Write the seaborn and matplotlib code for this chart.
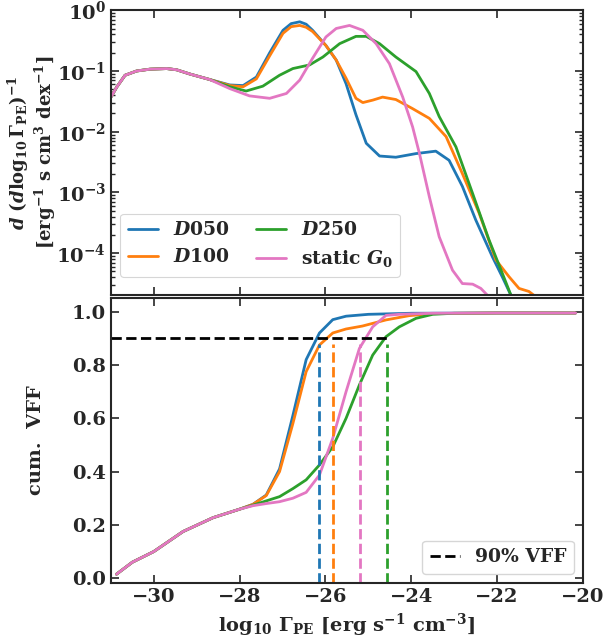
import numpy as np
import pandas as pd
import matplotlib
matplotlib.use("Agg")
import matplotlib.pyplot as plt
import seaborn as sns

# ---------------- data ----------------
labels = [r"$\mathbfit{D}$050", r"$\mathbfit{D}$100", r"$\mathbfit{D}$250", r"static $\mathbfit{G}_0$"]
colors = ["#1f77b4", "#ff7f0e", "#2ca02c", "#e377c2"]

# common low-Gamma part of the PDF (x = log10 Gamma_PE, y = log10 density)
pdf_x_low = [-31.0, -30.86, -30.67, -30.40, -30.09, -29.70, -29.47, -29.16, -28.70]
pdf_y_low = [-1.43, -1.26, -1.07, -1.00, -0.97, -0.96, -0.98, -1.05, -1.14]

pdf_x_d050 = pdf_x_low + [-28.23, -27.92, -27.61, -27.30, -26.99, -26.80, -26.60, -26.45, -26.30, -25.99, -25.75, -25.52, -25.29, -25.05, -24.74, -24.36, -23.89, -23.43, -23.12, -22.81, -22.50, -22.11, -21.88, -21.68]
pdf_y_d050 = pdf_y_low + [-1.23, -1.24, -1.10, -0.70, -0.33, -0.22, -0.19, -0.23, -0.33, -0.58, -0.82, -1.21, -1.72, -2.19, -2.40, -2.42, -2.36, -2.32, -2.47, -2.90, -3.45, -4.06, -4.39, -4.69]
pdf_x_d100 = pdf_x_low + [-28.23, -27.92, -27.61, -27.30, -26.99, -26.80, -26.60, -26.45, -26.30, -25.99, -25.75, -25.52, -25.29, -25.13, -24.90, -24.67, -24.36, -23.97, -23.58, -23.19, -22.81, -22.42, -22.03, -21.72, -21.49, -21.26, -21.15]
pdf_y_d100 = pdf_y_low + [-1.24, -1.26, -1.13, -0.75, -0.38, -0.27, -0.25, -0.28, -0.35, -0.58, -0.82, -1.12, -1.45, -1.52, -1.48, -1.43, -1.47, -1.62, -1.78, -2.08, -2.69, -3.34, -4.11, -4.39, -4.58, -4.63, -4.69]
pdf_x_d250 = pdf_x_low + [-28.23, -27.85, -27.46, -27.07, -26.76, -26.37, -26.06, -25.67, -25.29, -25.05, -24.74, -24.36, -23.89, -23.58, -23.35, -22.96, -22.57, -22.19, -21.88, -21.68]
pdf_y_d250 = pdf_y_low + [-1.26, -1.33, -1.25, -1.07, -0.96, -0.90, -0.77, -0.55, -0.43, -0.43, -0.55, -0.77, -1.01, -1.37, -1.75, -2.25, -3.02, -3.78, -4.33, -4.69]
pdf_x_g0 = pdf_x_low + [-28.23, -27.77, -27.30, -26.91, -26.60, -26.30, -25.99, -25.75, -25.44, -25.13, -24.82, -24.51, -24.20, -23.97, -23.81, -23.58, -23.35, -23.04, -22.81, -22.57, -22.38, -22.23]
pdf_y_g0 = pdf_y_low + [-1.29, -1.41, -1.45, -1.37, -1.15, -0.79, -0.44, -0.30, -0.25, -0.33, -0.55, -0.88, -1.43, -1.92, -2.36, -3.07, -3.73, -4.28, -4.50, -4.51, -4.58, -4.69]

# bottom panel: cumulative VFF
cum_x_d050 = [-30.87, -30.5, -30.0, -29.32, -28.62, -28.0, -27.69, -27.38, -27.07, -26.76, -26.45, -26.14, -25.83, -25.52, -25.0, -24.0, -22.0, -20.17]
cum_y_d050 = [0.015, 0.06, 0.10, 0.175, 0.227, 0.259, 0.277, 0.312, 0.41, 0.61, 0.82, 0.92, 0.97, 0.983, 0.99, 0.994, 0.995, 0.995]
cum_x_d100 = [-30.87, -30.5, -30.0, -29.32, -28.62, -28.0, -27.69, -27.38, -27.07, -26.76, -26.45, -26.14, -25.83, -25.52, -25.14, -24.59, -24.05, -23.5, -22.0, -20.17]
cum_y_d100 = [0.015, 0.06, 0.10, 0.175, 0.227, 0.259, 0.277, 0.31, 0.40, 0.58, 0.775, 0.875, 0.92, 0.935, 0.946, 0.969, 0.985, 0.993, 0.995, 0.995]
cum_x_d250 = [-30.87, -30.5, -30.0, -29.32, -28.62, -28.0, -27.69, -27.38, -27.07, -26.76, -26.45, -26.14, -25.83, -25.52, -25.21, -24.90, -24.59, -24.28, -23.89, -23.5, -23.0, -22.0, -20.17]
cum_y_d250 = [0.015, 0.06, 0.10, 0.175, 0.227, 0.259, 0.274, 0.29, 0.306, 0.336, 0.369, 0.425, 0.493, 0.60, 0.725, 0.837, 0.906, 0.943, 0.975, 0.99, 0.994, 0.995, 0.995]
cum_x_g0 = [-30.87, -30.5, -30.0, -29.32, -28.62, -28.0, -27.69, -27.38, -27.07, -26.76, -26.45, -26.14, -25.83, -25.52, -25.21, -24.90, -24.59, -24.28, -23.5, -22.0, -20.17]
cum_y_g0 = [0.015, 0.06, 0.10, 0.175, 0.227, 0.259, 0.272, 0.28, 0.287, 0.30, 0.322, 0.387, 0.525, 0.70, 0.862, 0.943, 0.986, 0.99, 0.994, 0.995, 0.995]

vff90_x = [-26.14, -25.83, -24.57, -25.20]  # D050, D100, D250, static G0
vff_level = 0.9

# ---------------- build tables ----------------
pdf_sets = [(pdf_x_d050, pdf_y_d050), (pdf_x_d100, pdf_y_d100), (pdf_x_d250, pdf_y_d250), (pdf_x_g0, pdf_y_g0)]
cum_sets = [(cum_x_d050, cum_y_d050), (cum_x_d100, cum_y_d100), (cum_x_d250, cum_y_d250), (cum_x_g0, cum_y_g0)]

pdf_df = pd.concat([pd.DataFrame({"x": x, "y": 10.0 ** np.array(y), "model": lab})
                    for (x, y), lab in zip(pdf_sets, labels)], ignore_index=True)
cum_df = pd.concat([pd.DataFrame({"x": x, "y": y, "model": lab})
                    for (x, y), lab in zip(cum_sets, labels)], ignore_index=True)

# ---------------- style ----------------
sns.set_theme(style="ticks")
plt.rcParams.update({
    "font.family": ["DejaVu Serif"],
    "font.weight": "bold",
    "axes.labelweight": "bold",
    "mathtext.fontset": "dejavuserif",
    "mathtext.default": "bf",
    "axes.linewidth": 1.5,
    "xtick.direction": "in",
    "ytick.direction": "in",
    "xtick.top": True,
    "ytick.right": True,
    "xtick.major.size": 6,
    "ytick.major.size": 6,
    "xtick.minor.size": 3,
    "ytick.minor.size": 3,
    "xtick.major.width": 1.2,
    "ytick.major.width": 1.2,
    "font.size": 14,
    "axes.labelsize": 14,
    "xtick.labelsize": 14,
    "ytick.labelsize": 14,
    "legend.fontsize": 14,
})

fig = plt.figure(figsize=(6.06, 6.41), dpi=100)
ax1 = fig.add_axes([0.183, 0.540, 0.779, 0.444])
ax2 = fig.add_axes([0.183, 0.0905, 0.779, 0.4445], sharex=ax1)

palette = dict(zip(labels, colors))

sns.lineplot(data=pdf_df, x="x", y="y", hue="model", palette=palette, hue_order=labels,
             ax=ax1, lw=2, sort=False, estimator=None)
ax1.set_yscale("log")
ax1.set_ylim(2.06e-5, 1.0)
ax1.set_xlim(-31, -20)
ax1.set_xlabel("")
ax1.set_ylabel(r"$\mathbfit{d}\ (\mathbfit{d}\log_{10}\Gamma_{\rm PE})^{-1}$" + "\n" +
               r"[erg$^{-1}$ s cm$^{3}$ dex$^{-1}$]", fontsize=13, linespacing=1.1)
ax1.yaxis.set_label_coords(-0.112, 0.5)
ax1.tick_params(axis="x", labelbottom=False)
ax1.tick_params(which="both", direction="in", top=True, right=True)
leg1 = ax1.legend(loc="lower left", ncol=2, frameon=True, fontsize=13.5,
                  bbox_to_anchor=(0.0, 0.03), handlelength=1.6, columnspacing=1.4)
leg1.get_frame().set_linewidth(0.8)

sns.lineplot(data=cum_df, x="x", y="y", hue="model", palette=palette, hue_order=labels,
             ax=ax2, lw=2, sort=False, estimator=None, legend=False)
ax2.set_ylim(-0.018, 1.051)
ax2.set_xlim(-31, -20)
for xv, c in zip(vff90_x, colors):
    ax2.plot([xv, xv], [-0.018, 0.88], ls="--", color=c, lw=2)
h, = ax2.plot([-31, max(vff90_x)], [vff_level, vff_level], ls="--", color="black", lw=2, label="90% VFF")
ax2.legend(handles=[h], loc="lower right", fontsize=13.5, handlelength=1.6)
ax2.set_xticks([-30, -28, -26, -24, -22, -20])
ax2.set_yticks([0.0, 0.2, 0.4, 0.6, 0.8, 1.0])
ax2.set_ylabel("cum.  VFF", fontsize=14)
ax2.yaxis.set_label_coords(-0.14, 0.5)
ax2.set_xlabel(r"log$_{10}$ $\Gamma_{\rm PE}$ [erg s$^{-1}$ cm$^{-3}$]", fontsize=14)
ax2.tick_params(which="both", direction="in", top=True, right=True)

fig.savefig("out.png", dpi=100)
